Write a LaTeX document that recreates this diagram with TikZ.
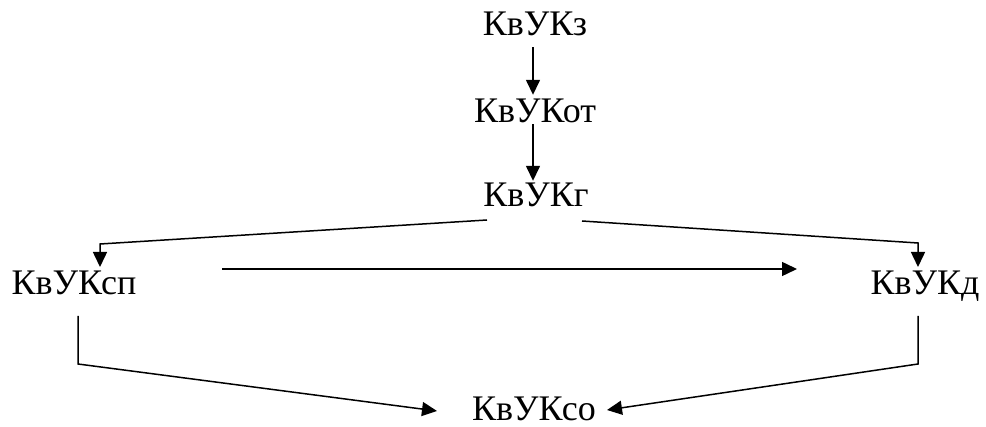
\documentclass[tikz,border=0pt]{standalone}
\usepackage{fontspec}
\setmainfont{Liberation Serif}
\usetikzlibrary{arrows.meta}
\begin{document}
\begin{tikzpicture}[x=1pt,y=-1pt,
  lbl/.style={font=\fontsize{36}{40}\selectfont, inner sep=0pt, anchor=base, text height=24pt, text depth=0pt},
  conn/.style={line width=1.5pt, -{Triangle[length=15pt,width=14pt]}},
  plain/.style={line width=1.5pt}]
\useasboundingbox (0,0) rectangle (986,427);
\node[lbl] (z)  at (535,36)  {КвУКз};
\node[lbl] (ot) at (535,123) {КвУКот};
\node[lbl] (g)  at (536,207) {КвУКг};
\node[lbl] (sp) at (74,295)  {КвУКсп};
\node[lbl] (d)  at (925,295) {КвУКд};
\node[lbl] (so) at (534,421) {КвУКсо};
% connector end points
\coordinate (gL) at (487,220);
\coordinate (gR) at (582,221);
\coordinate (spIn) at (100,267);
\coordinate (dIn) at (918,267);
\coordinate (hS) at (222,269);
\coordinate (hE) at (797,269);
\coordinate (spOut) at (78,316);
\coordinate (dOut) at (918,316);
\coordinate (soL) at (437,411);
\coordinate (soR) at (607,410);
\draw[conn] ([yshift=-11pt]z.south -| 533,0) -- ([yshift=4pt]ot.north -| 533,0);
\draw[conn] ([yshift=-1pt]ot.south -| 533,0) -- ([yshift=2pt]g.north -| 533,0);
\draw[conn] (gL) -- (100,244) -- (spIn);
\draw[conn] (gR) -- (918,243) -- (dIn);
\draw[conn] (hS) -- (hE);
\draw[conn] (spOut) -- (78,364) -- (soL);
\draw[conn] (dOut) -- (918,364) -- (soR);
\end{tikzpicture}
\end{document}
